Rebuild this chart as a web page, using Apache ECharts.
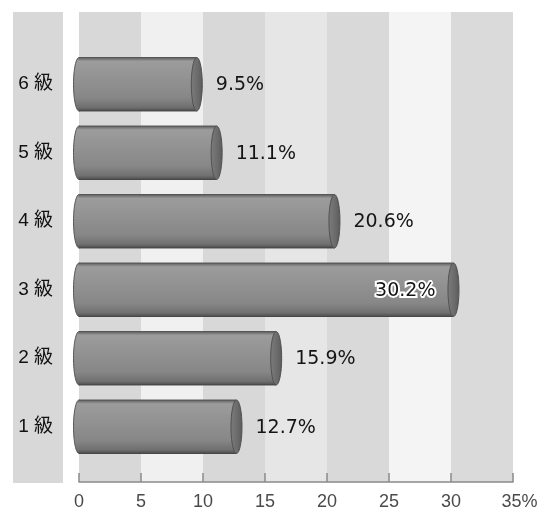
<!DOCTYPE html>
<html>
<head>
<meta charset="utf-8">
<script src="https://cdn.jsdelivr.net/npm/echarts@6/dist/echarts.min.js"></script>
<style>html,body{margin:0;padding:0;background:#fff}#c{width:560px;height:511px}</style>
</head>
<body>
<div id="c"></div>
<script>
const categories = ['1 級', '2 級', '3 級', '4 級', '5 級', '6 級'];
const values = [12.7, 15.9, 30.2, 20.6, 11.1, 9.5];
const tickMin = 0, tickMax = 35, tickStep = 5;
const unitSuffix = '%';

const chart = echarts.init(document.getElementById('c'));

const bodyGrad = new echarts.graphic.LinearGradient(0, 0, 0, 1, [
  {offset: 0, color: '#5e5e5e'},
  {offset: 0.07, color: '#9c9c9c'},
  {offset: 0.3, color: '#959595'},
  {offset: 0.75, color: '#878787'},
  {offset: 0.93, color: '#707070'},
  {offset: 1, color: '#4e4e4e'}
]);
const capGrad = new echarts.graphic.LinearGradient(0, 0, 1, 0, [
  {offset: 0, color: '#7c7c7c'},
  {offset: 0.6, color: '#6a6a6a'},
  {offset: 1, color: '#5a5a5a'}
]);

function renderItem(params, api) {
  const v = api.value(0), c = api.value(1);
  const p0 = api.coord([0, c]);
  const p1 = api.coord([v, c]);
  const band = api.size([0, 1])[1];
  const h = band * 0.78;
  const rx = 5.5;
  const y = p0[1] - h / 2;
  const cs = params.coordSys;
  const inside = p1[0] + 19 + 62 > cs.x + cs.width;
  const txt = v.toFixed(1) + unitSuffix;
  return {
    type: 'group',
    children: [
      {type: 'ellipse', shape: {cx: p0[0], cy: p0[1], rx: rx, ry: h / 2},
       style: {fill: bodyGrad, stroke: '#555', lineWidth: 1}},
      {type: 'rect', shape: {x: p0[0], y: y, width: p1[0] - p0[0], height: h},
       style: {fill: bodyGrad}},
      {type: 'line', shape: {x1: p0[0], y1: y, x2: p1[0], y2: y},
       style: {stroke: '#555', lineWidth: 1}},
      {type: 'line', shape: {x1: p0[0], y1: y + h, x2: p1[0], y2: y + h},
       style: {stroke: '#444', lineWidth: 1}},
      {type: 'ellipse', shape: {cx: p1[0], cy: p1[1], rx: rx, ry: h / 2},
       style: {fill: capGrad, stroke: '#505050', lineWidth: 1}},
      {type: 'text',
       style: {
         text: txt,
         x: inside ? p1[0] - 18 : p1[0] + 19,
         y: p0[1] + 1,
         align: inside ? 'right' : 'left',
         verticalAlign: 'middle',
         font: '19px "DejaVu Sans", sans-serif',
         fill: '#151515',
         stroke: inside ? '#ffffff' : null,
         lineWidth: inside ? 4 : 0
       }}
    ]
  };
}

chart.setOption({
  animation: false,
  backgroundColor: '#ffffff',
  graphic: [{
    type: 'rect', left: 13, top: 12, z: -10,
    shape: {width: 50, height: 471},
    style: {fill: '#d8d8d8'}
  }],
  grid: [
    {left: 79, right: 47, top: 12, bottom: 28},
    {left: 79, right: 47, top: 50, bottom: 50}
  ],
  xAxis: [
    {
      gridIndex: 0, type: 'value', min: tickMin, max: tickMax, interval: tickStep,
      splitLine: {show: false},
      splitArea: {show: true, areaStyle: {color: ['#d8d8d8', '#f0f0f0', '#d8d8d8', '#e6e6e6', '#d9d9d9', '#f4f4f4', '#dadada']}},
      axisLine: {show: true, lineStyle: {color: '#8a8a8a', width: 1.5}},
      axisTick: {show: true, inside: true, length: 9, lineStyle: {color: '#8a8a8a', width: 1.5}},
      axisLabel: {
        margin: 11, color: '#4a4a4a', fontSize: 18,
        fontFamily: '"Liberation Sans Narrow", "Liberation Sans", sans-serif',
        formatter: function (val) {
          return val === tickMax ? '{sp| }' + val + unitSuffix : String(val);
        },
        rich: {sp: {width: 13, fontSize: 18}}
      }
    },
    {gridIndex: 1, type: 'value', min: tickMin, max: tickMax, show: false}
  ],
  yAxis: [
    {gridIndex: 0, type: 'value', show: false},
    {
      gridIndex: 1, type: 'category', data: categories,
      axisLine: {show: false}, axisTick: {show: false},
      axisLabel: {margin: 26, color: '#111111', fontSize: 19,
        fontFamily: '"Liberation Sans", "Noto Sans CJK JP", sans-serif'}
    }
  ],
  series: [{
    type: 'custom',
    xAxisIndex: 1, yAxisIndex: 1,
    renderItem: renderItem,
    encode: {x: 0, y: 1},
    data: values.map(function (v, i) { return [v, i]; })
  }]
});
</script>
</body>
</html>
